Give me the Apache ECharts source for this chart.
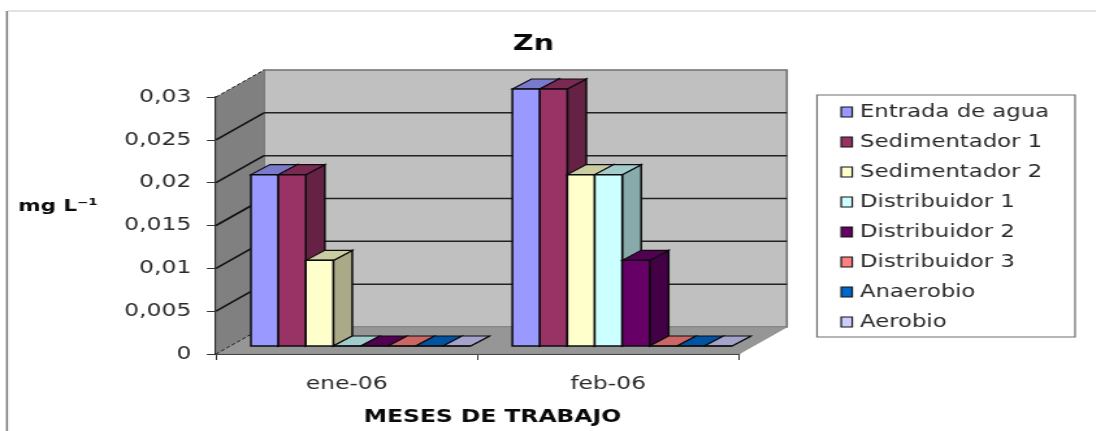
<!DOCTYPE html>
<html>
<head>
<meta charset="utf-8">
<style>
html,body{margin:0;padding:0;background:#fff;overflow:hidden;width:1096px;height:431px}
#wrap{position:absolute;left:0;top:0;width:1096px;height:431px;overflow:hidden}
#main{position:absolute;left:0;top:0;width:843px;height:431px;transform:scaleX(1.3);transform-origin:0 0;filter:blur(0.6px)}
</style>
<script src="https://cdn.jsdelivr.net/npm/echarts@6/dist/echarts.min.js"></script>
</head>
<body>
<div id="wrap"><div id="main"></div></div>
<script>
const categories = ['ene-06', 'feb-06'];
const seriesNames = ['Entrada de agua','Sedimentador 1','Sedimentador 2','Distribuidor 1','Distribuidor 2','Distribuidor 3','Anaerobio','Aerobio'];
const entradaAgua    = [0.02, 0.03];
const sedimentador1  = [0.02, 0.03];
const sedimentador2  = [0.01, 0.02];
const distribuidor1  = [0, 0.02];
const distribuidor2  = [0, 0.01];
const distribuidor3  = [0, 0];
const anaerobio      = [0, 0];
const aerobio        = [0, 0];
const seriesValues = [entradaAgua, sedimentador1, sedimentador2, distribuidor1, distribuidor2, distribuidor3, anaerobio, aerobio];
const seriesColors = ['#9999ff','#993366','#ffffcc','#ccffff','#660066','#ff8080','#0066cc','#ccccff'];
const yTicks = [0, 0.005, 0.01, 0.015, 0.02, 0.025, 0.03];

const K = 1.3; // the reference is stretched horizontally
const WALL_DX = 48 / K, WALL_DY = -27;      // full depth of the 3D box
const BAR_OFF_DX = 14 / K, BAR_OFF_DY = -8; // bar front plane behind the axis plane
const BAR_D_DX = 19 / K, BAR_D_DY = -10;    // depth of a bar
const BAR_RATIO = 0.105;

function shade(hex, f) {
  const n = parseInt(hex.slice(1), 16);
  const c = [n >> 16 & 255, n >> 8 & 255, n & 255].map(v => Math.round(v * f));
  return 'rgb(' + c.join(',') + ')';
}
function poly(points, fill, stroke, lw) {
  return {type: 'polygon', shape: {points}, style: {fill, stroke: stroke || fill, lineWidth: lw || 0}};
}
function line(x1, y1, x2, y2, stroke, lw, dash) {
  return {type: 'line', shape: {x1, y1, x2, y2}, style: {stroke, lineWidth: lw, lineDash: dash || null}};
}

function renderWalls(params, api) {
  const cs = params.coordSys;
  const L = cs.x, R = cs.x + cs.width;
  const y0 = api.coord([0, 0])[1], yT = api.coord([0, yTicks[yTicks.length - 1]])[1];
  const dx = WALL_DX, dy = WALL_DY;
  const ch = [
    poly([[L + dx, yT + dy], [R + dx, yT + dy], [R + dx, y0 + dy], [L + dx, y0 + dy]], '#c0c0c0', '#6f6f6f', 1.6),
    poly([[L, yT], [L + dx, yT + dy], [L + dx, y0 + dy], [L, y0]], '#808080'),
    poly([[L, y0], [R, y0], [R + dx, y0 + dy], [L + dx, y0 + dy]], '#969696', '#8a8a8a', 0.8)
  ];
  yTicks.forEach(t => {
    const y = api.coord([0, t])[1];
    const edge = t === 0 || t === yTicks[yTicks.length - 1];
    if (!edge) ch.push(line(L + dx, y + dy, R + dx, y + dy, '#222', 1.5));
    ch.push(line(L, y, L + dx, y + dy, '#111', edge ? 1 : 1.6, edge ? [3, 2] : null));
  });
  return {type: 'group', children: ch};
}

function makeBarRenderer(idx) {
  const color = seriesColors[idx];
  return function (params, api) {
    const band = api.size([1, 0])[0];
    const w = band * BAR_RATIO;
    const pTop = api.coord([api.value(0), api.value(1)]);
    const pBase = api.coord([api.value(0), 0]);
    const x1 = pTop[0] + (idx - seriesNames.length / 2) * w + BAR_OFF_DX;
    const x2 = x1 + w;
    const yt = pTop[1] + BAR_OFF_DY, yb = pBase[1] + BAR_OFF_DY;
    const dx = BAR_D_DX, dy = BAR_D_DY;
    const s = '#0c0c0c';
    return {type: 'group', children: [
      poly([[x2, yt], [x2 + dx, yt + dy], [x2 + dx, yb + dy], [x2, yb]], shade(color, 0.667), s, 1.5),
      poly([[x1, yt], [x1 + dx, yt + dy], [x2 + dx, yt + dy], [x2, yt]], shade(color, 0.8), s, 1.1),
      poly([[x1, yt], [x2, yt], [x2, yb], [x1, yb]], color, s, 1.5)
    ]};
  };
}

const chart = echarts.init(document.getElementById('main'), null, {renderer: 'canvas'});
const labelFont = {fontFamily: 'DejaVu Sans', color: '#2a2a2a', fontSize: 18};
const boldFont = {fontFamily: 'DejaVu Sans', color: '#0a0a0a', fontWeight: 'bold'};

const option = {
  animation: false,
  backgroundColor: '#fff',
  title: {
    text: 'Zn', left: 527 / K, top: 28, textAlign: 'center',
    textStyle: Object.assign({}, boldFont, {fontSize: 22})
  },
  grid: {left: 216 / K, right: (1096 - 739) / K, top: 97, bottom: 431 - 354, containLabel: false},
  xAxis: {
    type: 'category', data: categories,
    axisLine: {lineStyle: {color: '#1a1a1a', width: 2}},
    axisTick: {show: true, alignWithLabel: false, length: 6, lineStyle: {color: '#333', width: 1}},
    axisLabel: Object.assign({margin: 21}, labelFont),
    name: 'MESES DE TRABAJO', nameLocation: 'middle', nameGap: 54,
    nameTextStyle: Object.assign({}, boldFont, {fontSize: 18, padding: [0, 0, 0, 23]})
  },
  yAxis: {
    type: 'value', min: 0, max: 0.03, interval: 0.005,
    axisLine: {show: true, lineStyle: {color: '#1a1a1a', width: 1.8}},
    axisTick: {show: true, length: 7, lineStyle: {color: '#333', width: 1}},
    splitLine: {show: false},
    axisLabel: Object.assign({margin: 19, formatter: v => String(v).replace('.', ',')}, labelFont),
    name: 'mg L\u207B\u00B9', nameLocation: 'middle', nameRotate: 0, nameGap: 91,
    nameTextStyle: Object.assign({}, boldFont, {fontSize: 16.5, verticalAlign: 'bottom', padding: [0, 0, 10, 0]})
  },
  legend: {
    orient: 'vertical', left: 817 / K, top: 95,
    data: seriesNames, icon: 'rect', itemWidth: 8.5, itemHeight: 10, itemGap: 12,
    padding: [8, 20, 6, 18],
    backgroundColor: '#fff', borderColor: '#6e6e6e', borderWidth: 1.2,
    itemStyle: {borderColor: '#111', borderWidth: 1.2},
    textStyle: Object.assign({}, labelFont, {fontSize: 17.5, padding: [0, 0, 0, 1]}),
    inactiveColor: '#333'
  },
  graphic: [
    {type: 'line', silent: true, shape: {x1: 8 / K, y1: 11, x2: 1096 / K, y2: 11}, style: {stroke: '#c6c6c6', lineWidth: 1}},
    {type: 'line', silent: true, shape: {x1: 7 / K, y1: 11, x2: 7 / K, y2: 431}, style: {stroke: '#777', lineWidth: 1.5}}
  ],
  series: [
    {type: 'custom', name: 'walls', silent: true, z: 1, renderItem: renderWalls, data: [[0, 0]], encode: {x: 0, y: 1}}
  ].concat(seriesNames.map((name, i) => ({
    type: 'custom', name, z: 2 + i, silent: true,
    renderItem: makeBarRenderer(i),
    itemStyle: {color: seriesColors[i]},
    encode: {x: 0, y: 1},
    data: seriesValues[i].map((v, c) => [c, v])
  })))
};
chart.setOption(option);
</script>
</body>
</html>
